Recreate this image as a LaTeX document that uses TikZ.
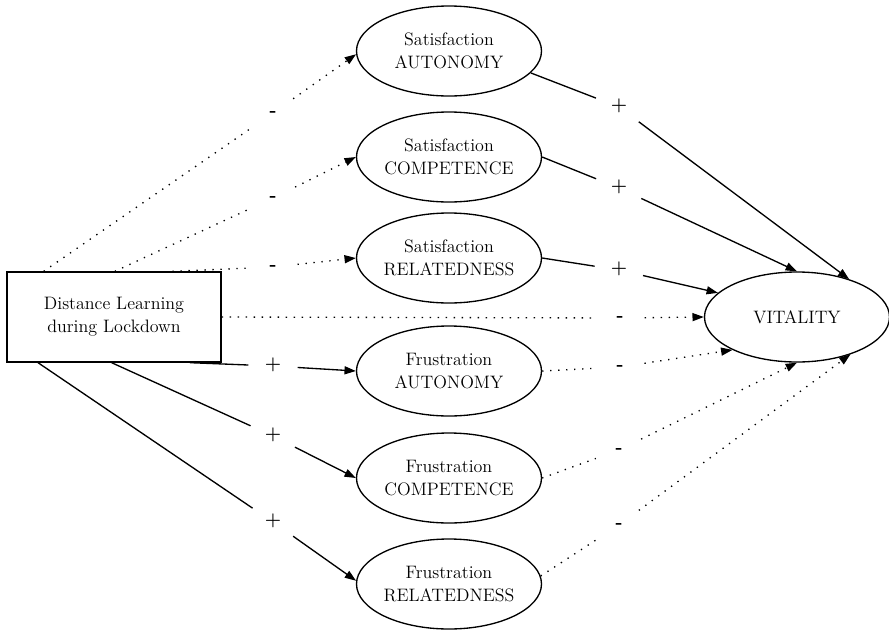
\documentclass[tikz,border=0pt]{standalone}
\usepackage{tikz}
\usetikzlibrary{arrows.meta,shapes.geometric}
\tikzset{every picture/.style={line width=1pt}}
\tikzset{
  latent/.style={draw, ellipse, minimum width=138.75pt, minimum height=67.5pt, inner sep=0pt, align=center, font=\fontsize{13.5}{17.25}\selectfont},
  factor/.style={draw, rectangle, minimum width=160.5pt, minimum height=67.5pt, inner sep=0pt, align=center, font=\fontsize{13.5}{17.25}\selectfont},
  sign/.style={circle, minimum size=36pt, inner sep=0pt, text height=0.5em, text depth=0pt, font=\fontsize{14}{16}\selectfont\bfseries},
  posline/.style={line cap=butt},
  negline/.style={dash pattern=on 1pt off 5pt},
  tip/.style={-{Triangle[length=8.5pt,width=6pt]}}
}

\begin{document}
\begin{tikzpicture}[x=0.75pt,y=0.75pt,yscale=-1,xscale=1]
		\useasboundingbox (0,0) rectangle (889,629);
		
		%Shape: Rectangle
		\node[factor] (dl) at (114,317) {Distance Learning\\during Lockdown};
		
		%Shape: Ellipse
		\node[latent] (satA) at (449,51) {Satisfaction\\AUTONOMY};
		\node[latent] (satC) at (449,157) {Satisfaction\\COMPETENCE};
		\node[latent] (satR) at (449,258) {Satisfaction\\RELATEDNESS};
		\node[latent] (fruA) at (449,371) {Frustration\\AUTONOMY};
		\node[latent] (fruC) at (449,478) {Frustration\\COMPETENCE};
		\node[latent] (fruR) at (449,584) {Frustration\\RELATEDNESS};
		\node[latent] (vit) at (797,317) {VITALITY};
		
		%Text: signs, left column
		\node[sign] (lsatA) at (273,113) {-};
		\node[sign] (lsatC) at (273,198) {-};
		\node[sign] (lsatR) at (273,267) {-};
		\node[sign] (lfruA) at (273,366) {+};
		\node[sign] (lfruC) at (273,436) {+};
		\node[sign] (lfruR) at (273,522) {+};
		
		%Text: signs, right column
		\node[sign] (rsatA) at (619,107) {+};
		\node[sign] (rsatC) at (619,188) {+};
		\node[sign] (rsatR) at (619,270) {+};
		\node[sign] (rdl) at (620,318) {-};
		\node[sign] (rfruA) at (620,367) {-};
		\node[sign] (rfruC) at (619,450) {-};
		\node[sign] (rfruR) at (619,525) {-};
		
		%Straight Lines: distance learning to needs
		\draw[negline] (dl.147) -- (lsatA);
		\draw[negline,tip] (lsatA) -- (satA.182);
		\draw[negline] (dl.89) -- (lsatC);
		\draw[negline,tip] (lsatC) -- (satC.west);
		\draw[negline] (dl.38) -- (lsatR);
		\draw[negline,tip] (lsatR) -- (satR.west);
		\draw[posline] (dl.329) -- (lfruA);
		\draw[posline,tip] (lfruA) -- (fruA.west);
		\draw[posline] (dl.267) -- (lfruC);
		\draw[posline,tip] (lfruC) -- (fruC.west);
		\draw[posline] (dl.211) -- (lfruR);
		\draw[posline,tip] (lfruR) -- (fruR.178);
		
		%Straight Lines: direct path
		\draw[negline] (dl.east) -- (rdl);
		\draw[negline,tip] (rdl) -- (vit.west);
		
		%Straight Lines: needs to vitality
		\draw[posline] (satA.-15) -- (rsatA);
		\draw[posline,tip] (rsatA) -- (vit.36);
		\draw[posline] (satC.east) -- (rsatC);
		\draw[posline,tip] (rsatC) -- (vit.north);
		\draw[posline] (satR.east) -- (rsatR);
		\draw[posline,tip] (rsatR) -- (vit.163);
		\draw[negline] (fruA.east) -- (rfruA);
		\draw[negline,tip] (rfruA) -- (vit.207);
		\draw[negline] (fruC.east) -- (rfruC);
		\draw[negline,tip] (rfruC) -- (vit.south);
		\draw[negline] (fruR.5) -- (rfruR);
		\draw[negline,tip] (rfruR) -- (vit.-35);
		
\end{tikzpicture}
\end{document}
